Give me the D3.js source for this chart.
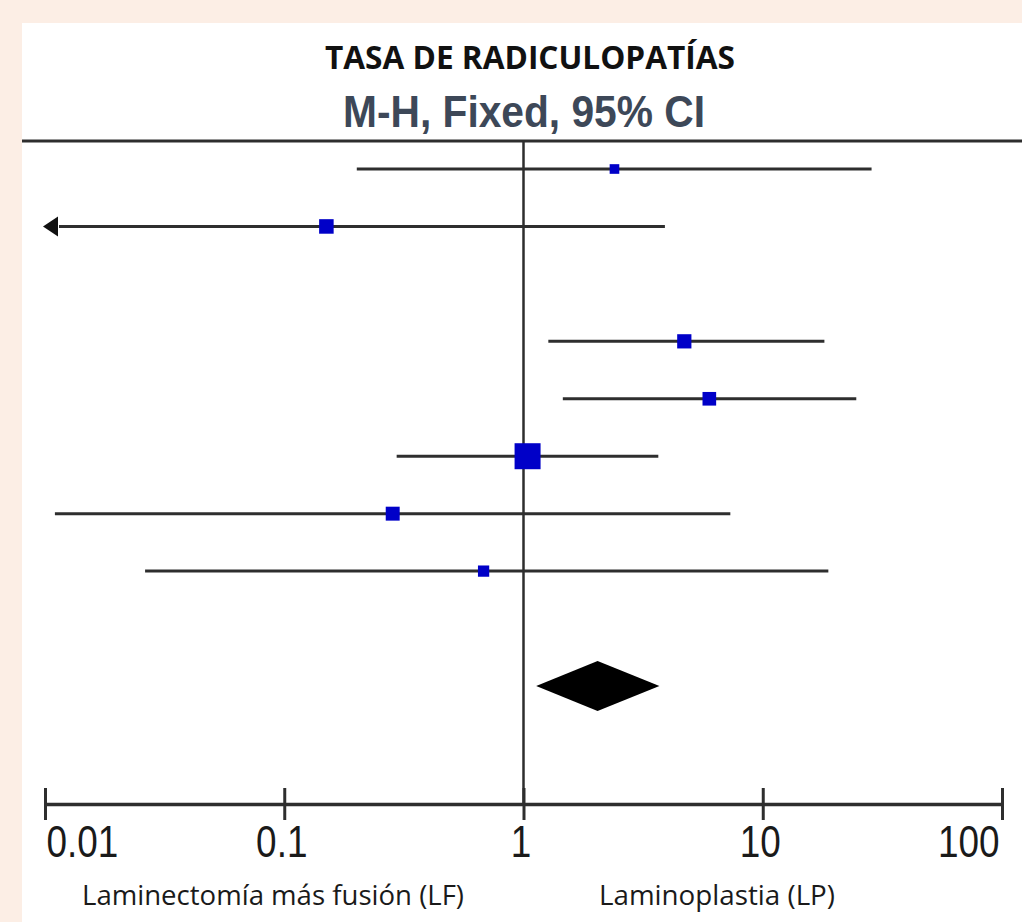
<!DOCTYPE html>
<html>
<head>
<meta charset="utf-8">
<script src="https://cdn.jsdelivr.net/npm/d3@7"></script>
<style>
  html, body { margin: 0; padding: 0; background: #fceee5; }
  svg { display: block; }
</style>
</head>
<body>
<svg id="chart" width="1022" height="922"></svg>
<script>
// ---- data ----
const titleText = "TASA DE RADICULOPATÍAS";
const subtitleText = "M-H, Fixed, 95% CI";
const leftLabel = "Laminectomía más fusión (LF)";
const rightLabel = "Laminoplastia (LP)";

const studyRow = [0, 1, 3, 4, 5, 6, 7];
const oddsRatio = [2.40, 0.150, 4.70, 5.98, 1.04, 0.284, 0.681];
const ciLow     = [0.201, 0.004, 1.27, 1.46, 0.295, 0.0110, 0.0262];
const ciHigh    = [28.5, 3.90, 18.1, 24.6, 3.66, 7.32, 18.8];
const weight    = [5.5, 12.5, 12.0, 11.0, 40.0, 11.5, 7.5];

const pooledRow = 9;
const pooledOR = 2.04;
const pooledLow = 1.13;
const pooledHigh = 3.70;

const tickValues = [0.01, 0.1, 1, 10, 100];
const tickLabels = ["0.01", "0.1", "1", "10", "100"];

// ---- drawing ----
const svg = d3.select("#chart");

svg.append("rect").attr("x", 22).attr("y", 23).attr("width", 1000).attr("height", 899).attr("fill", "#ffffff");

const x = d3.scaleLog().domain([0.01, 100]).range([45, 1002]);
const y = d3.scaleLinear().domain([0, 9]).range([169, 686]);
const side = d3.scaleSqrt().domain([0, 40]).range([0, 26]);
const axisY = 804;

// titles
svg.append("text").attr("x", 530).attr("y", 69).attr("text-anchor", "middle")
  .attr("font-family", "'Open Sans', sans-serif").attr("font-weight", "bold")
  .attr("font-size", 33).attr("fill", "#111")
  .attr("textLength", 410).attr("lengthAdjust", "spacingAndGlyphs")
  .text(titleText);

svg.append("text").attr("x", 524).attr("y", 127).attr("text-anchor", "middle")
  .attr("font-family", "'Liberation Sans Narrow', 'Arial Narrow', 'Liberation Sans', sans-serif").attr("font-weight", "bold")
  .attr("font-size", 44).attr("fill", "#3d4858")
  .attr("textLength", 362).attr("lengthAdjust", "spacingAndGlyphs")
  .text(subtitleText);

// top rule
svg.append("line").attr("x1", 22).attr("x2", 1022).attr("y1", 141).attr("y2", 141)
  .attr("stroke", "#2e2e2e").attr("stroke-width", 3);

// null line
svg.append("line").attr("x1", x(1)).attr("x2", x(1)).attr("y1", 141).attr("y2", axisY)
  .attr("stroke", "#2e2e2e").attr("stroke-width", 2.5);

// CI lines
const studies = studyRow.map((r, i) => ({ r, or: oddsRatio[i], lo: ciLow[i], hi: ciHigh[i], w: weight[i] }));
const dmin = x.domain()[0];
const arrowLen = 15;

const g = svg.append("g");
g.selectAll("line.ci").data(studies).enter().append("line")
  .attr("class", "ci")
  .attr("x1", d => d.lo < dmin ? x(dmin) + arrowLen - 1 : x(d.lo))
  .attr("x2", d => x(d.hi))
  .attr("y1", d => y(d.r)).attr("y2", d => y(d.r))
  .attr("stroke", "#2e2e2e").attr("stroke-width", 3);

// arrows for clipped CIs
g.selectAll("path.arrow").data(studies.filter(d => d.lo < dmin)).enter().append("path")
  .attr("class", "arrow")
  .attr("d", d => {
    const tx = x(dmin) - 2, ty = y(d.r);
    return `M${tx},${ty} L${tx + arrowLen},${ty - 10} L${tx + arrowLen},${ty + 10} Z`;
  })
  .attr("fill", "#111");

// point estimates
g.selectAll("rect.pt").data(studies).enter().append("rect")
  .attr("class", "pt")
  .attr("x", d => x(d.or) - side(d.w) / 2)
  .attr("y", d => y(d.r) - side(d.w) / 2)
  .attr("width", d => side(d.w)).attr("height", d => side(d.w))
  .attr("fill", "#0000c8");

// pooled diamond
const py = y(pooledRow);
svg.append("path")
  .attr("d", `M${x(pooledLow)},${py} L${x(pooledOR)},${py - 25} L${x(pooledHigh)},${py} L${x(pooledOR)},${py + 25} Z`)
  .attr("fill", "#000");

// axis
const axis = d3.axisBottom(x).tickValues(tickValues)
  .tickFormat((d, i) => tickLabels[i]).tickSize(16).tickSizeOuter(0);
const ag = svg.append("g").attr("transform", `translate(0,${axisY})`).call(axis);
ag.select(".domain").attr("stroke", "#2e2e2e").attr("stroke-width", 3.5);
ag.selectAll(".tick line").attr("y1", -16).attr("y2", 16).attr("stroke", "#2e2e2e").attr("stroke-width", 3);
ag.selectAll(".tick text")
  .attr("y", 53).attr("dy", 0)
  .attr("font-family", "'Liberation Sans', sans-serif")
  .attr("font-size", 45).attr("fill", "#1a1a1a")
  .attr("text-anchor", (d, i) => i === 0 ? "start" : (i === tickValues.length - 1 ? "end" : "middle"))
  .attr("dx", (d, i) => i === 0 ? 1 : (i === tickValues.length - 1 ? -3 : -3))
  .each(function () {
    const len = this.getComputedTextLength();
    d3.select(this).attr("textLength", len * 0.82).attr("lengthAdjust", "spacingAndGlyphs");
  });

// bottom labels
svg.append("text").attr("x", 82).attr("y", 905)
  .attr("font-family", "'Open Sans', sans-serif").attr("font-size", 28).attr("fill", "#1a1a1a")
  .attr("textLength", 382).attr("lengthAdjust", "spacingAndGlyphs")
  .text(leftLabel);
svg.append("text").attr("x", 599).attr("y", 905)
  .attr("font-family", "'Open Sans', sans-serif").attr("font-size", 28).attr("fill", "#1a1a1a")
  .attr("textLength", 236).attr("lengthAdjust", "spacingAndGlyphs")
  .text(rightLabel);
</script>
</body>
</html>
